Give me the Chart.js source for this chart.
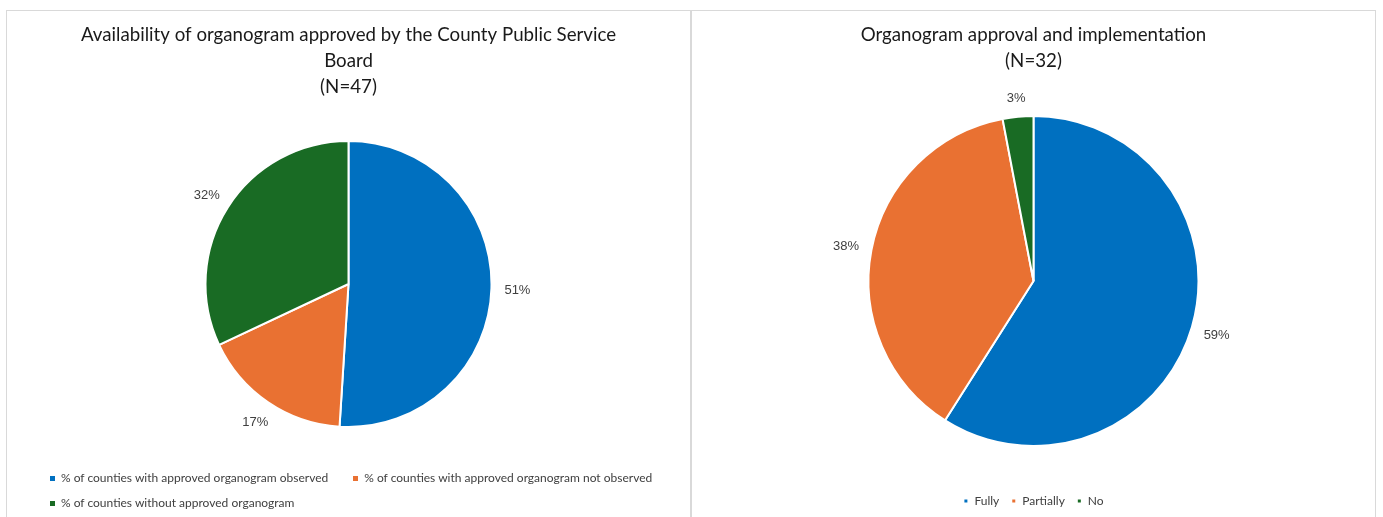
<!DOCTYPE html>
<html>
<head>
<meta charset="utf-8">
<script src="https://cdn.jsdelivr.net/npm/chart.js@4.4.1/dist/chart.umd.min.js"></script>
<style>
  html, body { margin: 0; padding: 0; background: #fff; }
  body { width: 1383px; height: 517px; position: relative; overflow: hidden; }
  .panel { position: absolute; top: 10px; height: 520px; border: 1px solid #d9d9d9; box-sizing: border-box; }
  canvas { position: absolute; top: 11px; }
  .html-legend {
    position: absolute; left: 50px; top: 469px; width: 620px;
    display: flex; flex-wrap: wrap; row-gap: 7px; column-gap: 25px;
    font-family: Lato, sans-serif; font-size: 12px; color: #404040;
  }
  .html-legend span.item { display: flex; align-items: center; line-height: 18px; white-space: nowrap; }
  .html-legend i { display: inline-block; width: 5px; height: 5px; margin-right: 6px; }
</style>
</head>
<body>
<div class="panel" style="left:6px; width:685px;"></div>
<div class="panel" style="left:691px; width:685px;"></div>
<canvas id="leftPie" width="683" height="506" style="left:7px;"></canvas>
<canvas id="rightPie" width="683" height="506" style="left:692px;"></canvas>
<div class="html-legend" id="leftLegend"></div>

<script>
// Availability of an approved organogram (N=47)
const availabilityLabels = [
  '% of counties with approved organogram observed',
  '% of counties with approved organogram not observed',
  '% of counties without approved organogram'
];
const availabilityValues = [51, 17, 32];

// Organogram approval and implementation (N=32)
const implementationLabels = ['Fully', 'Partially', 'No'];
const implementationValues = [59, 38, 3];

const sliceColors = ['#0070C0', '#E97132', '#196B24'];

// Percent labels placed just outside each slice, along its middle angle
const outsideLabels = {
  id: 'outsideLabels',
  afterDatasetsDraw(chart) {
    const ctx = chart.ctx;
    const values = chart.data.datasets[0].data;
    ctx.save();
    ctx.font = '13px "Liberation Sans", Arial, sans-serif';
    ctx.fillStyle = '#404040';
    ctx.textAlign = 'center';
    ctx.textBaseline = 'middle';
    chart.getDatasetMeta(0).data.forEach((arc, i) => {
      const { x, y, startAngle, endAngle, outerRadius } = arc.getProps(['x', 'y', 'startAngle', 'endAngle', 'outerRadius'], true);
      const mid = (startAngle + endAngle) / 2;
      const cos = Math.cos(mid), sin = Math.sin(mid);
      const dist = outerRadius + 19 + 7 * Math.abs(cos);
      ctx.fillText(values[i] + '%', x + cos * dist, y + sin * dist + 1);
    });
    ctx.restore();
  }
};

const titleFont = { family: 'Lato, sans-serif', size: 18.7, weight: 'normal', lineHeight: 1.39 };

const leftChart = new Chart(document.getElementById('leftPie'), {
  type: 'pie',
  data: {
    labels: availabilityLabels,
    datasets: [{
      data: availabilityValues,
      backgroundColor: sliceColors,
      borderColor: '#ffffff',
      borderWidth: 2,
      radius: 143
    }]
  },
  options: {
    responsive: false,
    animation: false,
    layout: { padding: { bottom: 54 } },
    plugins: {
      legend: { display: false },
      tooltip: { enabled: false },
      title: {
        display: true,
        text: ['Availability of organogram approved by the County Public Service', 'Board', '(N=47)'],
        color: '#1a1a1a',
        font: titleFont,
        padding: { top: 11, bottom: 5 }
      }
    }
  },
  plugins: [outsideLabels]
});

// left legend is laid out in HTML so the second row starts under the first item
const legendBox = document.getElementById('leftLegend');
leftChart.data.labels.forEach((label, i) => {
  const item = document.createElement('span');
  item.className = 'item';
  item.innerHTML = `<i style="background:${sliceColors[i]}"></i>${label}`;
  legendBox.appendChild(item);
});

new Chart(document.getElementById('rightPie'), {
  type: 'pie',
  data: {
    labels: implementationLabels,
    datasets: [{
      data: implementationValues,
      backgroundColor: sliceColors,
      borderColor: '#ffffff',
      borderWidth: 2,
      radius: 165
    }]
  },
  options: {
    responsive: false,
    animation: false,
    layout: { padding: { bottom: 0 } },
    plugins: {
      tooltip: { enabled: false },
      title: {
        display: true,
        text: ['Organogram approval and implementation', '(N=32)'],
        color: '#1a1a1a',
        font: titleFont,
        padding: { top: 11, bottom: 5 }
      },
      legend: {
        position: 'bottom',
        labels: {
          boxWidth: 5,
          boxHeight: 5,
          padding: 12,
          color: '#404040',
          font: { family: 'Lato, sans-serif', size: 12 }
        }
      }
    }
  },
  plugins: [outsideLabels]
});
</script>
</body>
</html>
